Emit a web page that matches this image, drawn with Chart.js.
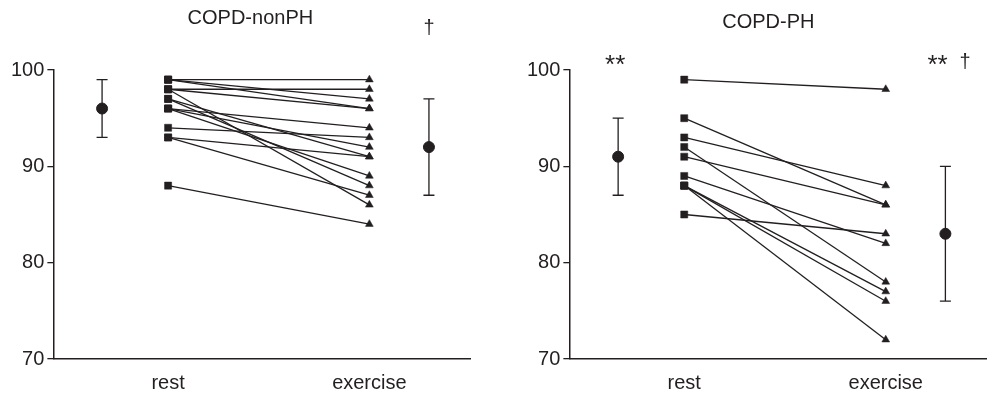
<!DOCTYPE html>
<html>
<head>
<meta charset="utf-8">
<script src="https://cdn.jsdelivr.net/npm/chart.js@4/dist/chart.umd.min.js"></script>
<style>
  html, body { margin: 0; padding: 0; background: #fff; overflow: hidden; }
  .panel { position: absolute; top: 0; height: 407px; }
  #left { left: 0; width: 492px; }
  #right { left: 516px; width: 477px; }
</style>
</head>
<body>
<div class="panel" id="left"><canvas id="chartNonPH"></canvas></div>
<div class="panel" id="right"><canvas id="chartPH"></canvas></div>
<script>
// x slots: mean of rest, rest, exercise, mean of exercise
const xLabels = ['rest', 'exercise'];
const xSlots = [1.36, 3, 8, 9.48];

// COPD-nonPH, one entry per subject
const nonPHRest =     [99, 99, 99, 98, 98, 98, 97, 97, 96, 96, 96, 94, 93, 93, 88];
const nonPHExercise = [99, 97, 96, 98, 96, 86, 91, 88, 94, 92, 89, 93, 91, 87, 84];
const nonPHMean = [96, 92];
const nonPHLow = [93, 87];
const nonPHHigh = [99, 97];
const nonPHMarks = ['', '†'];

// COPD-PH
const phRest =     [99, 95, 93, 92, 91, 89, 88, 88, 88, 85];
const phExercise = [98, 86, 88, 78, 86, 82, 77, 76, 72, 83];
const phMean = [91, 83];
const phLow = [87, 76];
const phHigh = [95, 90];
const phMarks = ['**', '** †'];

const yTicks = [70, 80, 90, 100];

const ink = '#231f20';
const fontFamily = '"Liberation Sans", Arial, sans-serif';

// whiskers for the mean points, drawn through the chart's scales
const errorBars = {
    id: 'errorBars',
    afterDatasetsDraw(chart, args, opts) {
        const { ctx, scales: { x, y } } = chart;
        ctx.save();
        ctx.strokeStyle = ink;
        ctx.lineWidth = 1.3;
        opts.mean.forEach((m, i) => {
            const px = x.getPixelForValue(opts.xs[i]);
            const lo = y.getPixelForValue(opts.low[i]);
            const hi = y.getPixelForValue(opts.high[i]);
            ctx.beginPath();
            ctx.moveTo(px, lo); ctx.lineTo(px, hi);
            ctx.moveTo(px - 5.5, lo); ctx.lineTo(px + 5.5, lo);
            ctx.moveTo(px - 5.5, hi); ctx.lineTo(px + 5.5, hi);
            ctx.stroke();
        });
        ctx.restore();
    }
};

// panel title and significance marks
const panelText = {
    id: 'panelText',
    afterDraw(chart, args, opts) {
        const { ctx, chartArea, scales: { x } } = chart;
        ctx.save();
        ctx.fillStyle = ink;
        ctx.textAlign = 'center';
        ctx.textBaseline = 'middle';
        ctx.font = '20px ' + fontFamily;
        ctx.fillText(opts.title, opts.titleX(chartArea), opts.titleY);
        opts.marks.forEach((t, i) => {
            if (!t) return;
            const px = x.getPixelForValue(opts.xs[i]);
            if (t === '** †') {
                ctx.textAlign = 'left';
                ctx.font = '26px ' + fontFamily;
                ctx.fillText('**', px - 18, opts.markY + 4);
                ctx.font = '20px ' + fontFamily;
                ctx.fillText('†', px + 14, opts.markY);
                ctx.textAlign = 'center';
            } else if (t.startsWith('*')) {
                ctx.font = '26px ' + fontFamily;
                ctx.fillText(t, px - 3, opts.markY + 4);
            } else {
                ctx.font = '20px ' + fontFamily;
                ctx.fillText(t, px, opts.markY);
            }
        });
        ctx.restore();
    }
};

function makeChart(canvasId, rest, exercise, mean, low, high, marks, title, titleX, titleY, markY, padRight) {
    const subjects = rest.map((r, i) => ({
        data: [{ x: xSlots[1], y: r }, { x: xSlots[2], y: exercise[i] }],
        borderColor: ink,
        backgroundColor: ink,
        borderWidth: 1.3,
        pointStyle: ['rect', 'triangle'],
        pointRadius: [5, 4.5],
        pointBorderWidth: 0.5,
        showLine: true,
    }));
    const means = {
        data: mean.map((m, i) => ({ x: i === 0 ? xSlots[0] : xSlots[3], y: m })),
        borderColor: ink,
        backgroundColor: ink,
        pointStyle: 'circle',
        pointRadius: 5.5,
        showLine: false,
    };
    const meanXs = [xSlots[0], xSlots[3]];

    new Chart(document.getElementById(canvasId), {
        type: 'scatter',
        data: { datasets: [...subjects, means] },
        plugins: [errorBars, panelText],
        options: {
            responsive: true,
            maintainAspectRatio: false,
            animation: false,
            layout: { padding: { top: 70, left: 8, right: padRight, bottom: 0 } },
            plugins: {
                legend: { display: false },
                tooltip: { enabled: false },
                errorBars: { xs: meanXs, mean, low, high },
                panelText: { title, titleX, titleY, marks, xs: meanXs, markY },
            },
            scales: {
                x: {
                    type: 'linear',
                    min: 0.15,
                    max: 10.5,
                    afterBuildTicks: axis => {
                        axis.ticks = [{ value: xSlots[1] }, { value: xSlots[2] }];
                    },
                    ticks: {
                        color: ink,
                        font: { family: fontFamily, size: 20 },
                        padding: 12,
                        maxRotation: 0,
                        callback: (v) => v === xSlots[1] ? xLabels[0] : xLabels[1],
                    },
                    grid: { drawOnChartArea: false, drawTicks: false },
                    border: { color: ink, width: 1.5 },
                },
                y: {
                    min: 70,
                    max: 100,
                    afterBuildTicks: axis => {
                        axis.ticks = yTicks.map(v => ({ value: v }));
                    },
                    ticks: {
                        color: ink,
                        font: { family: fontFamily, size: 20 },
                        padding: 3,
                    },
                    grid: { drawOnChartArea: false, drawTicks: true, tickLength: 6, color: ink, lineWidth: 1.3 },
                    border: { color: ink, width: 1.5 },
                },
            },
        },
    });
}

makeChart('chartNonPH', nonPHRest, nonPHExercise, nonPHMean, nonPHLow, nonPHHigh, nonPHMarks,
    'COPD-nonPH', area => area.left + 197, 18, 28, 22);
makeChart('chartPH', phRest, phExercise, phMean, phLow, phHigh, phMarks,
    'COPD-PH', area => area.left + 199, 22, 62, 5);
</script>
</body>
</html>
